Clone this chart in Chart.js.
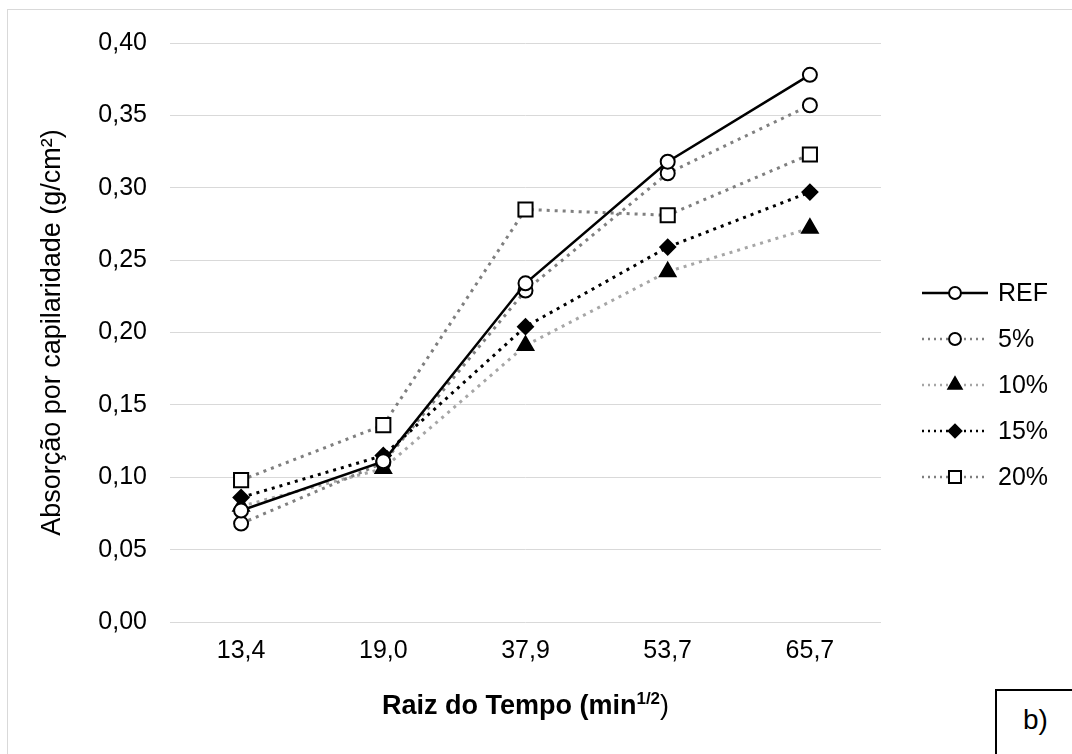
<!DOCTYPE html>
<html>
<head>
<meta charset="utf-8">
<script src="https://cdn.jsdelivr.net/npm/chart.js@4/dist/chart.umd.min.js"></script>
<style>
    body { margin: 0; background: #fff; overflow: hidden; }
    #wrap { position: relative; width: 1072px; height: 754px; overflow: hidden; }
    #frame { position: absolute; left: 7px; top: 9px; width: 1100px; height: 800px; border: 1px solid #d9d9d9; }
    #chart { position: absolute; left: 0; top: 0; }
    #tag { position: absolute; left: 995px; top: 689px; width: 120px; height: 100px; border: 2px solid #000; background: #fff; }
    #tag span { position: absolute; left: 26px; top: 15px; font: 28px "Liberation Sans", Arial, sans-serif; line-height: 28px; color: #000; }
</style>
</head>
<body>
<div id="wrap">
    <div id="frame"></div>
    <canvas id="chart" width="1072" height="754"></canvas>
    <div id="tag"><span>b)</span></div>
</div>
<script>
const categories = ["13,4", "19,0", "37,9", "53,7", "65,7"];
const yTicks = [0, 0.05, 0.10, 0.15, 0.20, 0.25, 0.30, 0.35, 0.40];

const ref   = [0.077, 0.111, 0.234, 0.318, 0.378];
const p5    = [0.068, 0.110, 0.229, 0.310, 0.357];
const p10   = [0.080, 0.106, 0.191, 0.242, 0.272];
const p15   = [0.086, 0.115, 0.204, 0.259, 0.297];
const p20   = [0.098, 0.136, 0.285, 0.281, 0.323];

const FONT = '"Liberation Sans", Arial, sans-serif';
const dots = [3, 5];

function series(label, data, color, dash, style, radius, fill) {
    return {
        label: label,
        data: data,
        borderColor: color,
        borderWidth: dash ? 3 : 2.5,
        borderDash: dash || [],
        pointStyle: style,
        pointRadius: radius,
        pointHoverRadius: radius,
        pointBackgroundColor: fill,
        pointBorderColor: '#000',
        pointBorderWidth: 2,
        tension: 0,
        fill: false
    };
}

// legend and x axis title (with superscript) drawn by hand
const extras = {
    id: 'extras',
    afterDraw(chart) {
        const ctx = chart.ctx;
        ctx.save();
        chart.data.datasets.forEach(function(ds, i) {
            const y = 293 + i * 46;
            ctx.strokeStyle = ds.borderColor;
            ctx.lineWidth = 2.5;
            ctx.setLineDash(ds.borderDash.length ? [2, 4] : []);
            ctx.beginPath();
            ctx.moveTo(922, y);
            ctx.lineTo(988, y);
            ctx.stroke();
            ctx.setLineDash([]);
            ctx.fillStyle = ds.pointBackgroundColor;
            ctx.strokeStyle = '#000';
            ctx.lineWidth = 2;
            Chart.helpers.drawPoint(ctx, {
                pointStyle: ds.pointStyle,
                radius: ds.pointRadius * 0.85,
                borderWidth: 2,
                rotation: 0
            }, 955, y);
            ctx.fillStyle = '#000';
            ctx.font = '25px ' + FONT;
            ctx.textAlign = 'left';
            ctx.textBaseline = 'middle';
            ctx.fillText(ds.label, 998, y + 1);
        });

        const cx = (chart.chartArea.left + chart.chartArea.right) / 2;
        const base = 714;
        ctx.textBaseline = 'alphabetic';
        ctx.textAlign = 'left';
        ctx.font = 'bold 27px ' + FONT;
        const a = 'Raiz do Tempo (min';
        const wa = ctx.measureText(a).width;
        ctx.font = 'bold 17px ' + FONT;
        const b = '1/2';
        const wb = ctx.measureText(b).width;
        ctx.font = '27px ' + FONT;
        const c = ')';
        const wc = ctx.measureText(c).width;
        let x = cx - (wa + wb + wc) / 2;
        ctx.font = 'bold 27px ' + FONT;
        ctx.fillText(a, x, base);
        x += wa;
        ctx.font = 'bold 17px ' + FONT;
        ctx.fillText(b, x, base - 10);
        x += wb;
        ctx.font = '27px ' + FONT;
        ctx.fillText(c, x, base);
        ctx.restore();
    }
};

new Chart(document.getElementById('chart').getContext('2d'), {
    type: 'line',
    data: {
        labels: categories,
        datasets: [
            series('REF', ref, '#000000', null, 'circle', 7, '#ffffff'),
            series('5%', p5, '#808080', dots, 'circle', 7, '#ffffff'),
            series('10%', p10, '#a6a6a6', dots, 'triangle', 9, '#000000'),
            series('15%', p15, '#000000', dots, 'rectRot', 7.5, '#000000'),
            series('20%', p20, '#7f7f7f', dots, 'rect', 10, '#ffffff')
        ]
    },
    options: {
        responsive: false,
        animation: false,
        devicePixelRatio: 1,
        layout: { padding: { left: 0, top: 43, right: 191, bottom: 0 } },
        plugins: {
            legend: { display: false },
            tooltip: { enabled: false }
        },
        scales: {
            x: {
                offset: true,
                grid: { display: false, drawTicks: false, offset: true },
                border: { display: false },
                ticks: { color: '#000', font: { family: FONT, size: 25 }, padding: 14, maxRotation: 0 },
                afterFit: function(scale) { scale.height = 132; }
            },
            y: {
                min: 0,
                max: 0.4,
                afterBuildTicks: function(scale) {
                    scale.ticks = yTicks.map(function(v) { return { value: v }; });
                },
                grid: { color: '#d9d9d9', lineWidth: 1, drawTicks: false },
                border: { display: false },
                ticks: {
                    color: '#000',
                    font: { family: FONT, size: 25 },
                    padding: 23,
                    callback: function(v) { return v.toFixed(2).replace('.', ','); }
                },
                title: {
                    display: true,
                    text: 'Absorção por capilaridade (g/cm²)',
                    color: '#000',
                    font: { family: FONT, size: 27 },
                    padding: { top: 36, bottom: 0 }
                },
                afterFit: function(scale) { scale.width = 170; }
            }
        }
    },
    plugins: [extras]
});
</script>
</body>
</html>
